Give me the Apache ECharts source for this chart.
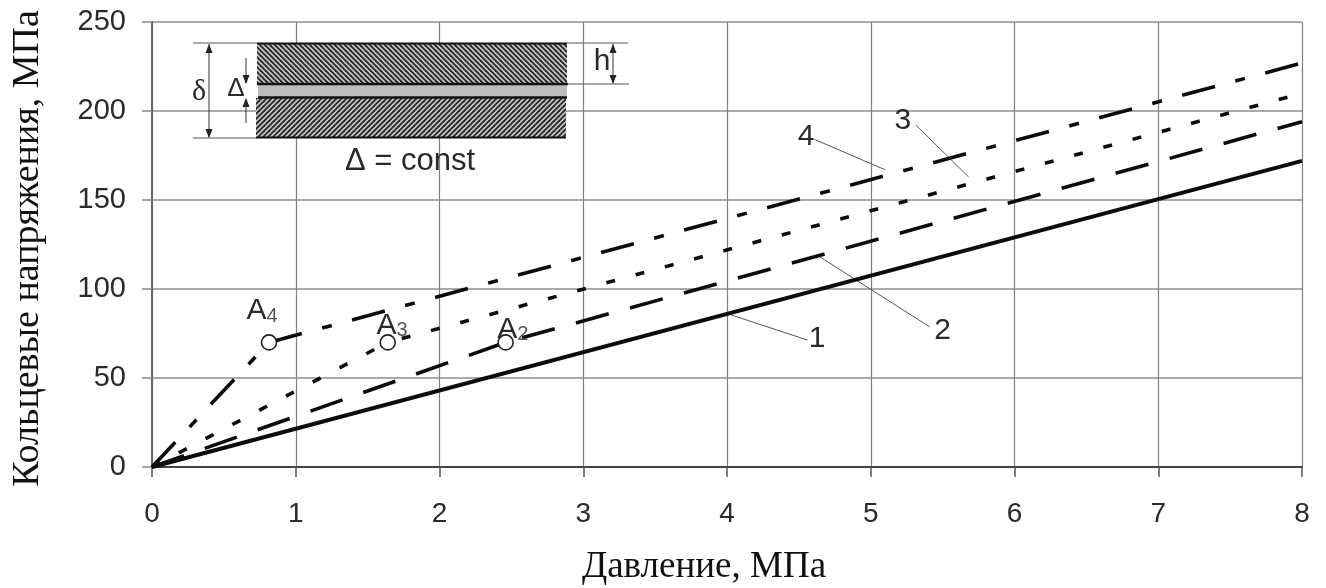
<!DOCTYPE html>
<html><head><meta charset="utf-8">
<script src="https://cdn.jsdelivr.net/npm/echarts@6/dist/echarts.min.js"></script>
<style>html,body{margin:0;padding:0;background:#fff}#c{width:1326px;height:588px}</style></head>
<body><div id="c"></div>
<script>
const xTicks=[0,1,2,3,4,5,6,7,8];
const yTicks=[0,50,100,150,200,250];
const curve1=[[0,0],[8,172]];
const curve2a=[[0,0],[2.46,70]];
const curve2b=[[2.46,70],[8,194]];
const curve3a=[[0,0],[1.64,70]];
const curve3b=[[1.64,70],[8,210]];
const curve4a=[[0,0],[0.814,70]];
const curve4b=[[0.814,70],[8,227]];
const pointA=[[0.814,70],[1.64,70],[2.46,70]];
const labelA=[[0.765,87.6,'4'],[1.67,79.5,'3'],[2.51,77,'2']];
const leader1=[[4.03,85.4],[4.56,71.3]];
const leader2=[[4.647,118],[5.41,78.7]];
const leader3=[[5.315,192],[5.68,163]];
const leader4=[[4.61,184],[5.1,167]];
const curveNames=[[4.626,71.9,'1'],[5.5,76.4,'2'],[5.224,194.4,'3'],[4.55,185.4,'4']];
const titleX='Давление, МПа';
const titleY='Кольцевые напряжения, МПа';

const chart=echarts.init(document.getElementById('c'),null,{renderer:'canvas'});
const ax='Liberation Sans, Arial, sans-serif', serif='Liberation Serif, Times New Roman, serif';
function hatch(dir){const c=document.createElement('canvas');c.width=c.height=5;const t=c.getContext('2d');
 t.fillStyle='#c9c9c9';t.fillRect(0,0,5,5);t.strokeStyle='#2a2a2a';t.lineWidth=1.9;
 const segs=dir>0?[[-1,1,1,-1],[0,5,5,0],[4,6,6,4]]:[[-1,4,1,6],[0,0,5,5],[4,-1,6,1]];
 segs.forEach(l=>{t.beginPath();t.moveTo(l[0],l[1]);t.lineTo(l[2],l[3]);t.stroke();});return c;}
const ln=(x1,y1,x2,y2,w,col)=>({type:'line',shape:{x1,y1,x2,y2},style:{stroke:col||'#333',lineWidth:w||1},z:20});
const tx=(x,y,t,fs,font)=>({type:'text',x,y,style:{text:t,fontSize:fs,fontFamily:font||ax,fill:'#2a2a2a',align:'center',verticalAlign:'middle'},z:21});
const arrow=(x,y,d)=>({type:'polygon',shape:{points:[[x,y],[x-3.5,y-d*9],[x+3.5,y-d*9]]},style:{fill:'#222'},z:21});
const inset=[
 {type:'rect',shape:{x:257,y:43,width:310,height:41},style:{fill:{image:hatch(-1),repeat:'repeat'}},z:19},
 {type:'rect',shape:{x:256,y:98,width:310,height:40},style:{fill:{image:hatch(1),repeat:'repeat'}},z:19},
 {type:'rect',shape:{x:258,y:84,width:309,height:14},style:{fill:'#bdbdbd'},z:19},
 ln(257,43.5,567,43.5,2,'#111'),ln(257,84,568,84,2.5,'#111'),ln(258,97.5,567,97.5,2.5,'#111'),ln(256,137.5,566,137.5,2,'#111'),
 ln(193,43,258,43,1,'#555'),ln(193,138,258,138,1,'#555'),ln(567,43,628,43,1,'#555'),ln(567,84,629,84,1,'#555'),
 ln(209,44,209,137,1),arrow(209,44,-1),arrow(209,138,1),
 ln(246,58,246,83,1),arrow(246,84,1),ln(246,99,246,123,1),arrow(246,98,-1),
 ln(613,44,613,83,1),arrow(613,44,-1),arrow(613,84,1),
 tx(199,92,'δ',30,'Liberation Serif'),tx(236,89,'Δ',26),tx(602,62,'h',30),tx(410,161,'Δ = const',31)
];
const thick=(data,w,dash,off)=>({type:'line',data,symbol:'none',silent:true,z:5,
 lineStyle:{color:'#0c0c0c',opacity:1,width:w,type:dash,dashOffset:off||0,cap:'butt'}});
const thin=d=>({type:'line',data:d,symbol:'none',silent:true,z:4,lineStyle:{color:'#555',width:1}});
const dash2=[34,22], dash3=[9,21.3], dash4=[34,21,10,21];
chart.setOption({
 animation:false,backgroundColor:'#fff',
 grid:{left:152,right:24,top:22,bottom:121,outerBoundsMode:'none'},
 xAxis:{type:'value',min:0,max:8,interval:1,name:titleX,nameLocation:'middle',nameGap:82,
  nameTextStyle:{fontFamily:serif,fontSize:37,color:'#111',padding:[0,46,0,0]},
  axisLine:{show:true,onZero:false,lineStyle:{color:'#222',width:1.5}},axisTick:{show:true,length:10,lineStyle:{color:'#555',width:1.5}},
  axisLabel:{fontFamily:ax,fontSize:28,color:'#2a2a2a',margin:33,formatter:v=>String(v)},
  splitLine:{show:true,lineStyle:{color:'#808080',width:1.2}}},
 yAxis:{type:'value',min:0,max:250,interval:50,name:titleY,nameLocation:'middle',nameGap:105,
  nameTextStyle:{fontFamily:serif,fontSize:38,color:'#111',padding:[0,8,0,0]},
  axisLine:{show:true,lineStyle:{color:'#666',width:2}},axisTick:{show:true,length:10,lineStyle:{color:'#888',width:1.5}},
  axisLabel:{fontFamily:ax,fontSize:29,color:'#2a2a2a',margin:26,padding:[3,0,0,0]},
  splitLine:{show:true,lineStyle:{color:'#aaaaaa',width:2}}},
 series:[
  thick(curve1,4,'solid'),
  thick(curve2a,3.6,dash2),thick(curve2b,3.6,dash2,39),
  thick(curve3a,3.6,dash3),thick(curve3b,3.6,dash3,15.8),
  thick(curve4a,3.6,dash4),thick(curve4b,3.6,dash4),
  thin(leader1),thin(leader2),thin(leader3),thin(leader4),
  {type:'scatter',data:pointA,symbol:'circle',symbolSize:15,z:7,silent:true,
   itemStyle:{color:'#fff',opacity:1,borderColor:'#222',borderWidth:1.6}},
  {type:'scatter',data:labelA,symbolSize:0,silent:true,z:8,itemStyle:{opacity:1},
   label:{show:true,position:'inside',color:'#2a2a2a',
    formatter:p=>'{a|A}{s|'+p.value[2]+'}',
    rich:{a:{fontFamily:ax,fontSize:30,color:'#2a2a2a'},s:{fontFamily:ax,fontSize:20,color:'#555',verticalAlign:'bottom',padding:[10,0,0,0]}}}},
  {type:'scatter',data:curveNames,symbolSize:0,silent:true,z:8,itemStyle:{opacity:1},
   label:{show:true,position:'inside',fontFamily:ax,fontSize:30,color:'#2a2a2a',formatter:p=>p.value[2]}}
 ],
 graphic:inset
});
</script></body></html>
